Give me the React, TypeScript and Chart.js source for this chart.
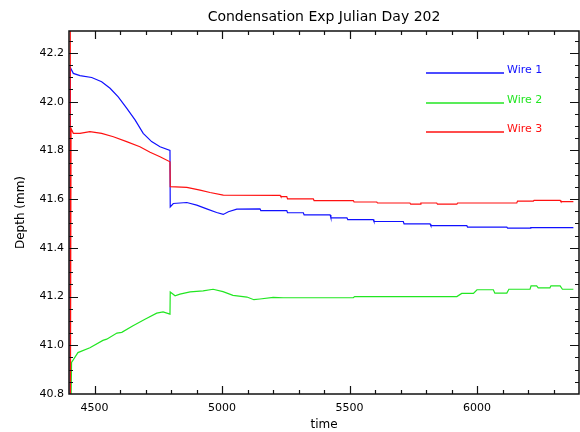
import React, { useEffect, useRef } from 'react';
import { Chart, registerables } from 'chart.js';

Chart.register(...registerables);

const chartTitle = 'Condensation Exp Julian Day 202';
const xTitle = 'time';
const yTitle = 'Depth (mm)';
const seriesNames = ['Wire 1', 'Wire 2', 'Wire 3'];
const seriesColors = ['#1010ff', '#22e622', '#ff1010'];

const xMin = 4400;
const xMax = 6400;
const yMin = 40.8;
const yMax = 42.29;
const xTickValues = [4500, 5000, 5500, 6000];
const yTickValues = [40.8, 41.0, 41.2, 41.4, 41.6, 41.8, 42.0, 42.2];
const xMinorStep = 100;
const yMinorStep = 0.05;

const wire1Time = [4405, 4405, 4417, 4443, 4489, 4528, 4561, 4593, 4626, 4659, 4691, 4724, 4757, 4796, 4797, 4809, 4862, 4901, 4940, 4979, 5005, 5025, 5058, 5149, 5152, 5254, 5257, 5319, 5322, 5424, 5427, 5490, 5493, 5593, 5596, 5711, 5714, 5816, 5819, 5960, 5963, 6117, 6120, 6208, 6211, 6378];
const wire1Depth = [40.5, 42.14, 42.116, 42.107, 42.099, 42.082, 42.055, 42.02, 41.973, 41.925, 41.87, 41.836, 41.815, 41.80, 41.568, 41.582, 41.586, 41.575, 41.56, 41.545, 41.537, 41.548, 41.559, 41.56, 41.553, 41.553, 41.544, 41.544, 41.535, 41.535, 41.523, 41.523, 41.516, 41.516, 41.508, 41.508, 41.498, 41.498, 41.491, 41.491, 41.485, 41.485, 41.481, 41.481, 41.483, 41.483];

const wire2Time = [4405, 4410, 4435, 4482, 4533, 4548, 4588, 4607, 4651, 4698, 4744, 4769, 4796, 4797, 4816, 4835, 4875, 4926, 4965, 5004, 5043, 5098, 5125, 5149, 5201, 5240, 5515, 5520, 5921, 5940, 5986, 6000, 6064, 6070, 6117, 6125, 6208, 6212, 6234, 6240, 6286, 6290, 6326, 6335, 6378];
const wire2Depth = [40.5, 40.93, 40.97, 40.99, 41.02, 41.025, 41.05, 41.053, 41.08, 41.107, 41.132, 41.137, 41.128, 41.219, 41.203, 41.21, 41.219, 41.223, 41.23, 41.22, 41.205, 41.198, 41.187, 41.19, 41.197, 41.195, 41.195, 41.2, 41.2, 41.213, 41.213, 41.228, 41.228, 41.214, 41.214, 41.23, 41.23, 41.244, 41.244, 41.236, 41.236, 41.244, 41.244, 41.23, 41.23];

const wire3Time = [4405, 4405, 4408, 4417, 4443, 4482, 4528, 4574, 4626, 4678, 4718, 4757, 4796, 4797, 4862, 4914, 4953, 5005, 5228, 5231, 5254, 5257, 5358, 5361, 5515, 5518, 5607, 5610, 5737, 5740, 5777, 5780, 5842, 5845, 5921, 5924, 6156, 6159, 6221, 6224, 6326, 6329, 6378];
const wire3Depth = [42.5, 40.5, 41.89, 41.87, 41.87, 41.877, 41.87, 41.856, 41.836, 41.815, 41.792, 41.774, 41.753, 41.651, 41.648, 41.637, 41.627, 41.616, 41.615, 41.61, 41.61, 41.601, 41.601, 41.594, 41.594, 41.588, 41.588, 41.584, 41.584, 41.579, 41.579, 41.584, 41.584, 41.579, 41.579, 41.584, 41.584, 41.592, 41.592, 41.595, 41.595, 41.59, 41.59];

const FONT = "'DejaVu Sans', sans-serif";

function toPoints(xs: number[], ys: number[]) {
  return xs.map((x, i) => ({ x, y: ys[i] }));
}

function isMajor(v: number, majors: number[]) {
  return majors.some((m) => Math.abs(m - v) < 1e-6);
}

const framePlugin = {
  id: 'idlFrame',
  afterDatasetsDraw(chart: any) {
    const { ctx, chartArea: a, scales } = chart;
    const xs = scales.x;
    const ys = scales.y;
    ctx.save();
    ctx.strokeStyle = '#111';
    ctx.lineWidth = 1.5;
    ctx.strokeRect(a.left, a.top, a.right - a.left, a.bottom - a.top);
    ctx.lineWidth = 1.2;
    ctx.beginPath();
    const xi0 = Math.ceil(xMin / xMinorStep);
    const xi1 = Math.floor(xMax / xMinorStep);
    for (let i = xi0; i <= xi1; i++) {
      const v = i * xMinorStep;
      if (v <= xMin || v >= xMax) continue;
      const px = Math.round(xs.getPixelForValue(v)) + 0.5;
      const len = isMajor(v, xTickValues) ? 8 : 4;
      ctx.moveTo(px, a.bottom);
      ctx.lineTo(px, a.bottom - len);
      ctx.moveTo(px, a.top);
      ctx.lineTo(px, a.top + len);
    }
    const yi0 = Math.ceil(yMin / yMinorStep - 1e-9);
    const yi1 = Math.floor(yMax / yMinorStep + 1e-9);
    for (let i = yi0; i <= yi1; i++) {
      const v = i * yMinorStep;
      if (v <= yMin + 1e-9 || v >= yMax - 1e-9) continue;
      const py = Math.round(ys.getPixelForValue(v)) + 0.5;
      const len = isMajor(v, yTickValues) ? 9 : 4;
      ctx.moveTo(a.left, py);
      ctx.lineTo(a.left + len, py);
      ctx.moveTo(a.right, py);
      ctx.lineTo(a.right - len, py);
    }
    ctx.stroke();
    ctx.restore();
  },
  afterDraw(chart: any) {
    const { ctx, chartArea: a } = chart;
    ctx.save();
    ctx.fillStyle = '#000';
    ctx.font = `14px ${FONT}`;
    ctx.textAlign = 'center';
    ctx.textBaseline = 'middle';
    ctx.fillText(chartTitle, (a.left + a.right) / 2, 17.5);
    const legendY = [73, 103, 132];
    seriesNames.forEach((name, i) => {
      ctx.strokeStyle = seriesColors[i];
      ctx.lineWidth = 1.3;
      ctx.beginPath();
      ctx.moveTo(426, legendY[i]);
      ctx.lineTo(504, legendY[i]);
      ctx.stroke();
      ctx.fillStyle = seriesColors[i];
      ctx.font = `11px ${FONT}`;
      ctx.textAlign = 'left';
      ctx.textBaseline = 'middle';
      ctx.fillText(name, 507, legendY[i] - 2.5);
    });
    ctx.restore();
  },
};

export default function App() {
  const canvasRef = useRef<HTMLCanvasElement | null>(null);

  useEffect(() => {
    document.body.style.margin = '0';
    const canvas = canvasRef.current;
    if (!canvas) return;
    const series = [
      { t: wire1Time, d: wire1Depth, order: 1 },
      { t: wire2Time, d: wire2Depth, order: 2 },
      { t: wire3Time, d: wire3Depth, order: 0 },
    ];
    const chart = new Chart(canvas, {
      type: 'line',
      data: {
        datasets: series.map((s, i) => ({
          label: seriesNames[i],
          data: toPoints(s.t, s.d),
          borderColor: seriesColors[i],
          backgroundColor: seriesColors[i],
          borderWidth: 1.2,
          pointRadius: 0,
          tension: 0,
          fill: false,
          order: s.order,
        })),
      },
      options: {
        animation: false,
        responsive: false,
        devicePixelRatio: 1,
        layout: { padding: { top: 31, right: 1, left: 0, bottom: 0 } },
        plugins: {
          legend: { display: false },
          tooltip: { enabled: false },
          title: { display: false },
        },
        scales: {
          x: {
            type: 'linear',
            min: xMin,
            max: xMax,
            grid: { display: false, drawTicks: false },
            border: { display: false },
            afterBuildTicks: (scale: any) => {
              scale.ticks = xTickValues.map((v) => ({ value: v }));
            },
            ticks: {
              autoSkip: false,
              maxRotation: 0,
              padding: 8,
              color: '#000',
              font: { family: FONT, size: 11 },
              callback: (v: any) => String(v),
            },
            title: {
              display: true,
              text: xTitle,
              color: '#000',
              font: { family: FONT, size: 12 },
              padding: { top: 0, bottom: 0 },
            },
            afterFit: (scale: any) => {
              scale.height = 38;
            },
          },
          y: {
            type: 'linear',
            min: yMin,
            max: yMax,
            grid: { display: false, drawTicks: false },
            border: { display: false },
            afterBuildTicks: (scale: any) => {
              scale.ticks = yTickValues.map((v) => ({ value: v }));
            },
            ticks: {
              autoSkip: false,
              padding: 5,
              color: '#000',
              font: { family: FONT, size: 11 },
              callback: (v: any) => Number(v).toFixed(1),
            },
            title: {
              display: true,
              text: yTitle,
              color: '#000',
              font: { family: FONT, size: 12 },
              padding: { top: 14, bottom: 0 },
            },
            afterFit: (scale: any) => {
              scale.width = 69;
            },
          },
        },
      },
      plugins: [framePlugin],
    });
    return () => chart.destroy();
  }, []);

  return (
    <div style={{ position: 'absolute', left: 0, top: 0, width: 580, height: 432, background: '#fff' }}>
      <canvas ref={canvasRef} width={580} height={432} style={{ width: 580, height: 432, display: 'block' }} />
    </div>
  );
}
